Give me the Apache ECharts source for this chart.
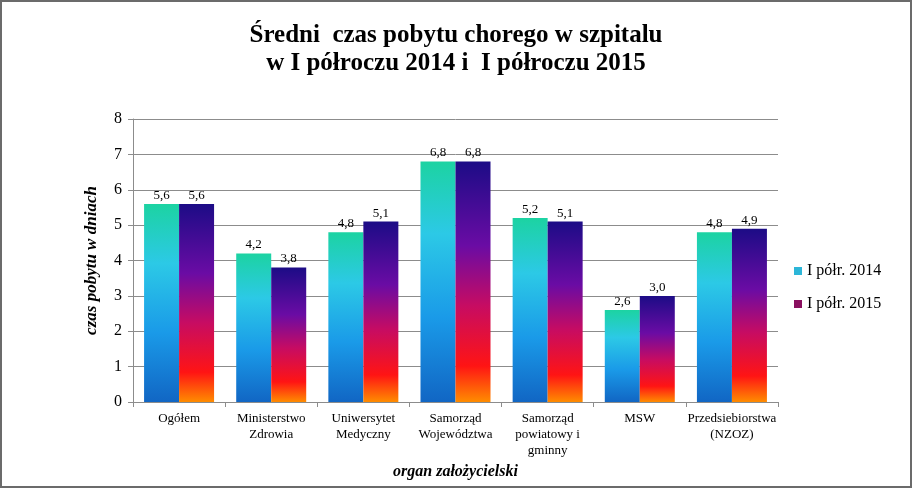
<!DOCTYPE html>
<html>
<head>
<meta charset="utf-8">
<script src="https://cdn.jsdelivr.net/npm/echarts@6/dist/echarts.min.js"></script>
<style>
	html, body {margin:0; padding:0; background:#fff;}
	#main {width:912px; height:488px; box-sizing:border-box; border:2px solid #6b6b6b;}
</style>
</head>
<body>
<div id="main"></div>
<script>
	var categories = ['Ogółem', 'Ministerstwo\nZdrowia', 'Uniwersytet\nMedyczny', 'Samorząd\nWojewództwa', 'Samorząd\npowiatowy i\ngminny', 'MSW', 'Przedsiebiorstwa\n(NZOZ)'];
	var values2014 = [5.6, 4.2, 4.8, 6.8, 5.2, 2.6, 4.8];
	var values2015 = [5.6, 3.8, 5.1, 6.8, 5.1, 3.0, 4.9];
	var yTicks = [0, 1, 2, 3, 4, 5, 6, 7, 8];

	var serif = '"Liberation Serif", "DejaVu Serif", serif';
	var fmt = function (p) { return p.value.toFixed(1).replace('.', ','); };

	// gradienty słupków
	var grad2014 = new echarts.graphic.LinearGradient(0, 0, 0, 1, [
		{offset: 0, color: '#1cd3a2'},
		{offset: 0.3, color: '#2cc9e6'},
		{offset: 0.65, color: '#1a9ae8'},
		{offset: 1, color: '#1166c4'}
	]);
	var grad2015 = new echarts.graphic.LinearGradient(0, 0, 0, 1, [
		{offset: 0, color: '#1c0c86'},
		{offset: 0.35, color: '#6a0ca4'},
		{offset: 0.6, color: '#c70c62'},
		{offset: 0.85, color: '#ff1414'},
		{offset: 1, color: '#ff8c00'}
	]);

	var myChart = echarts.init(document.getElementById('main'));
	var option = {
		animation: false,
		title: {
			text: 'Średni  czas pobytu chorego w szpitalu\nw I półroczu 2014 i  I półroczu 2015',
			left: 'center',
			top: 15,
			textStyle: {fontFamily: serif, fontSize: 25, fontWeight: 'bold', color: '#000', lineHeight: 28}
		},
		legend: {
			orient: 'vertical',
			left: 787,
			top: 256,
			icon: 'rect',
			itemWidth: 8,
			itemHeight: 8,
			itemGap: 17,
			textStyle: {fontFamily: serif, fontSize: 16, color: '#000'},
			data: [
				{name: 'I półr. 2014', itemStyle: {color: '#2cb6d8'}},
				{name: 'I półr. 2015', itemStyle: {color: '#8a1060'}}
			]
		},
		grid: {left: 131, right: 132, top: 117, bottom: 84},
		xAxis: {
			type: 'category',
			data: categories,
			name: 'organ założycielski',
			nameLocation: 'middle',
			nameGap: 60,
			nameTextStyle: {fontFamily: serif, fontSize: 16, fontWeight: 'bold', fontStyle: 'italic', color: '#000'},
			axisLine: {lineStyle: {color: '#8c8c8c'}},
			axisTick: {show: true, length: 5, lineStyle: {color: '#8c8c8c'}},
			axisLabel: {fontFamily: serif, fontSize: 13, color: '#000', lineHeight: 16, margin: 9, interval: 0}
		},
		yAxis: {
			type: 'value',
			min: 0,
			max: 8,
			interval: 1,
			name: 'czas pobytu w dniach',
			nameLocation: 'middle',
			nameGap: 33,
			nameTextStyle: {fontFamily: serif, fontSize: 17, fontWeight: 'bold', fontStyle: 'italic', color: '#000'},
			axisLine: {show: true, lineStyle: {color: '#8c8c8c'}},
			axisTick: {show: true, length: 5, lineStyle: {color: '#8c8c8c'}},
			axisLabel: {fontFamily: serif, fontSize: 16, color: '#000', margin: 11,
				formatter: function (v) { return yTicks.indexOf(v) >= 0 ? String(v) : ''; }},
			splitLine: {lineStyle: {color: '#8c8c8c'}}
		},
		series: [
			{
				name: 'I półr. 2014',
				type: 'bar',
				data: values2014,
				barWidth: 35,
				barGap: '0%',
				itemStyle: {color: grad2014},
				label: {show: true, position: 'top', distance: 2, fontFamily: serif, fontSize: 13, color: '#000', formatter: fmt}
			},
			{
				name: 'I półr. 2015',
				type: 'bar',
				data: values2015,
				barWidth: 35,
				itemStyle: {color: grad2015},
				label: {show: true, position: 'top', distance: 2, fontFamily: serif, fontSize: 13, color: '#000', formatter: fmt}
			}
		]
	};
	myChart.setOption(option);
</script>
</body>
</html>
